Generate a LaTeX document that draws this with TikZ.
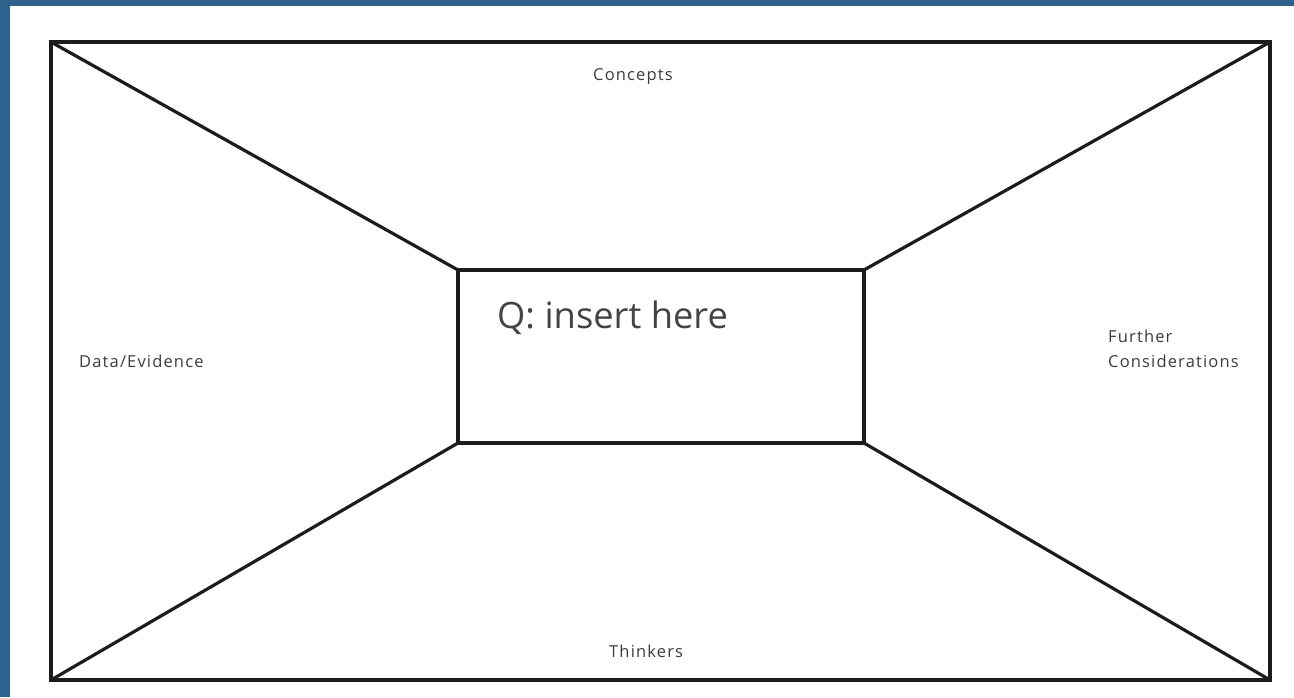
\documentclass[tikz,border=0pt]{standalone}
\usepackage{fontspec}
\setmainfont{Open Sans}
\definecolor{frameblue}{RGB}{44,98,140}
\definecolor{inkline}{RGB}{28,28,28}
\definecolor{labelgray}{RGB}{60,60,60}
\definecolor{qgray}{RGB}{68,68,68}
\tikzset{
  boxframe/.style={draw=inkline, line width=3.6pt, outer sep=0pt, inner sep=0pt, fill=none},
  spoke/.style={draw=inkline, line width=3.2pt, line cap=round},
  smalllabel/.style={text=labelgray, font=\fontsize{16.5}{25}\selectfont\addfontfeature{LetterSpace=7}, inner sep=0pt, align=left},
}
\begin{document}
\begin{tikzpicture}[x=1pt,y=-1pt]
  \useasboundingbox (0,0) rectangle (1294,697);
  \fill[white] (0,0) rectangle (1294,697);
  \fill[frameblue] (0,0) rectangle (1294,6);
  \fill[frameblue] (0,0) rectangle (10,697);

  \node[boxframe, minimum width=1219pt, minimum height=638pt] (outer) at (660.5,361) {};
  \node[boxframe, line width=3.2pt, minimum width=406pt, minimum height=173pt] (inner) at (661,356.5) {};

  \draw[spoke] (outer.north west) -- (inner.north west);
  \draw[spoke] (outer.north east) -- (inner.north east);
  \draw[spoke] (outer.south west) -- (inner.south west);
  \draw[spoke] (outer.south east) -- (inner.south east);

  \node[anchor=base west, inner sep=0pt, text=qgray, font=\fontsize{36.3}{40}\selectfont] (q) at (497,328) {Q: insert here};

  \node[smalllabel, anchor=base west] (concepts) at (593,80) {Concepts};
  \node[smalllabel, anchor=base west] (thinkers) at (609,657) {Thinkers};
  \node[smalllabel, anchor=base west] (data) at (79,367) {Data/Evidence};
  \node[smalllabel, anchor=base west] (further) at (1108,367) {Further\\Considerations};
\end{tikzpicture}
\end{document}
